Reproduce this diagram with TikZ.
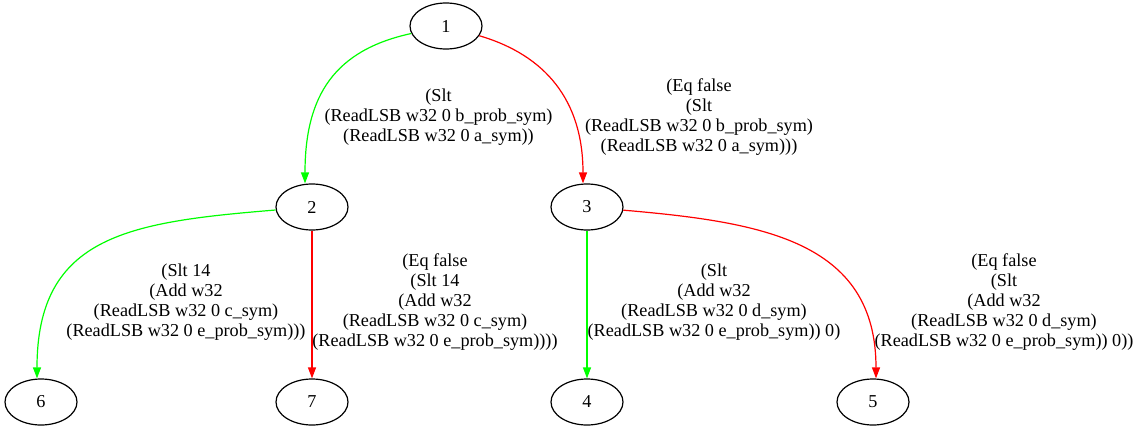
\documentclass[tikz,border=0pt]{standalone}
\usepackage{fontspec}
\setmainfont{Liberation Serif}
\usepackage{tikz}
\usepackage{xcolor}
\usetikzlibrary{arrows.meta,shapes.geometric}
\definecolor{gvgreen}{HTML}{00FF00}
\definecolor{gvred}{HTML}{FF0000}

\begin{document}
\begin{tikzpicture}[x=1pt, y=-1pt,
    state/.style={draw, ellipse, line width=1.2pt, minimum width=72pt, minimum height=46pt,
                  inner sep=0pt, font=\fontsize{18.2}{20}\selectfont},
    cond/.style={align=center, inner sep=0pt, font=\fontsize{18.2}{20}\selectfont},
    tedge/.style={-{Triangle[length=11pt, width=8pt]}, line width=1.2pt, color=gvgreen},
    fedge/.style={-{Triangle[length=11pt, width=8pt]}, line width=1.2pt, color=gvred}
]
  \useasboundingbox (0,0) rectangle (1140,431);
  % states
  \node[state] (s1) at (446,26) {1};
  \node[state] (s2) at (312,207) {2};
  \node[state] (s3) at (587,207) {3};
  \node[state] (s6) at (41,402) {6};
  \node[state] (s7) at (312,402) {7};
  \node[state] (s4) at (587,402) {4};
  \node[state] (s5) at (873,402) {5};
  % branch conditions
  \node[cond] (c12) at (438.5,117) {(Slt\\(ReadLSB w32 0 b\_prob\_sym)\\(ReadLSB w32 0 a\_sym))};
  \node[cond] (c13) at (699,117) {(Eq false\\(Slt\\(ReadLSB w32 0 b\_prob\_sym)\\(ReadLSB w32 0 a\_sym)))};
  \node[cond] (c26) at (186,302) {(Slt 14\\(Add w32\\(ReadLSB w32 0 c\_sym)\\(ReadLSB w32 0 e\_prob\_sym)))};
  \node[cond] (c27) at (435,302) {(Eq false\\(Slt 14\\(Add w32\\(ReadLSB w32 0 c\_sym)\\(ReadLSB w32 0 e\_prob\_sym))))};
  \node[cond] (c34) at (714,302) {(Slt\\(Add w32\\(ReadLSB w32 0 d\_sym)\\(ReadLSB w32 0 e\_prob\_sym)) 0)};
  \node[cond] (c35) at (1004,302) {(Eq false\\(Slt\\(Add w32\\(ReadLSB w32 0 d\_sym)\\(ReadLSB w32 0 e\_prob\_sym)) 0))};
  % edges
  \draw[tedge] (s1) .. controls (335,50) and (305,95) .. (s2.north -| 305,0);
  \draw[fedge] (s1) .. controls (545,55) and (583,100) .. (s3.north -| 583,0);
  \draw[tedge] (s2) .. controls (130,222) and (37,235) .. (s6.north -| 37,0);
  \draw[fedge] (s2) -- (s7);
  \draw[tedge] (s3) -- (s4);
  \draw[fedge] (s3) .. controls (760,222) and (876,240) .. (s5.north -| 876,0);
\end{tikzpicture}
\end{document}
